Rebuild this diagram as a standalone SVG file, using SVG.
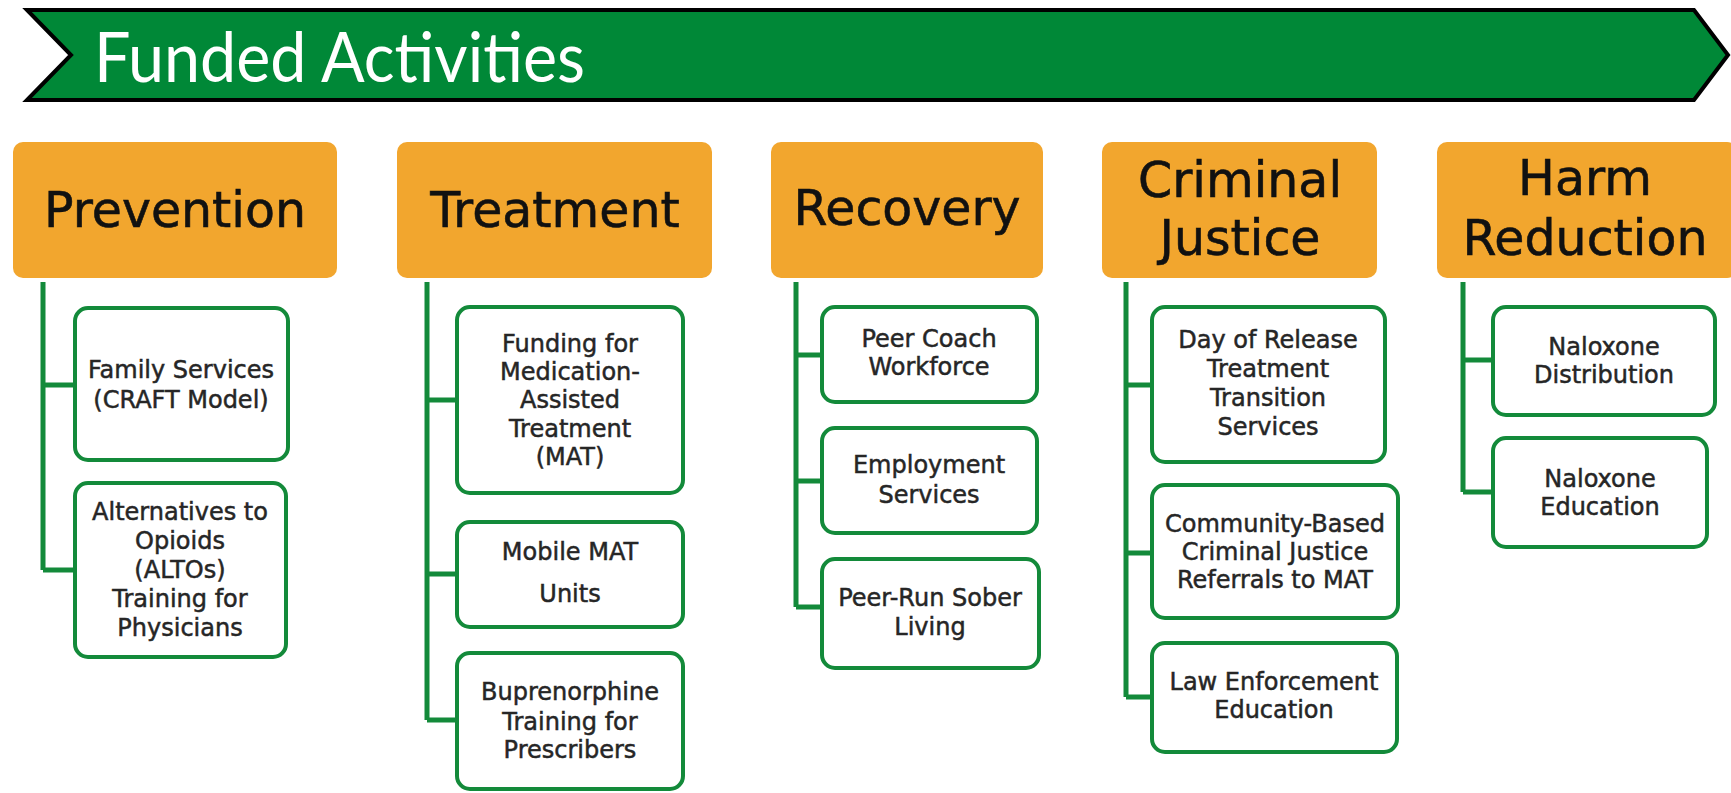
<svg xmlns="http://www.w3.org/2000/svg" width="1731" height="793" viewBox="0 0 1731 793">
<style>
.hdr{fill:#F2A62E}
.htx{font-family:"DejaVu Sans",sans-serif;font-size:49px;fill:#111;stroke:#111;stroke-width:0.6;text-anchor:middle}
.box{fill:#fff;stroke:#138A3A;stroke-width:4}
.btx{font-family:"DejaVu Sans",sans-serif;font-size:24px;fill:#262626;stroke:#262626;stroke-width:0.5;text-anchor:middle}
.con{fill:none;stroke:#138A3A;stroke-width:5}
</style>
<rect width="1731" height="793" fill="#fff"/>
<g id="banner">
<polygon points="27,10 1694,10 1728,55 1694,100 27,100 71,55" fill="#008837" stroke="#000" stroke-width="4" stroke-linejoin="miter"/>
<text x="94" y="82" font-family="Lato, 'Open Sans', sans-serif" font-size="70" fill="#fff" textLength="491" lengthAdjust="spacingAndGlyphs">Funded Activities</text>
</g>
<g id="connectors">
<path class="con" d="M43,282 V570 M43,385 H75 M43,570 H75"/>
<path class="con" d="M427,282 V720 M427,400 H457 M427,574 H457 M427,720 H457"/>
<path class="con" d="M796,282 V607 M796,355 H822 M796,481 H822 M796,607 H822"/>
<path class="con" d="M1126,282 V697 M1126,385 H1152 M1126,553 H1152 M1126,697 H1152"/>
<path class="con" d="M1463,282 V492 M1463,360 H1493 M1463,492 H1493"/>
</g>
<g id="prevention">
<rect class="hdr" x="13" y="142" width="324" height="136" rx="10"/>
<text class="htx" x="175" y="227">Prevention</text>
</g>
<g id="family-services">
<rect class="box" x="75" y="308" width="213" height="152" rx="13"/>
<text class="btx" x="181" y="378">Family Services</text>
<text class="btx" x="181" y="408">(CRAFT Model)</text>
</g>
<g id="altos">
<rect class="box" x="75" y="483" width="211" height="174" rx="13"/>
<text class="btx" x="180" y="520">Alternatives to</text>
<text class="btx" x="180" y="549">Opioids</text>
<text class="btx" x="180" y="578">(ALTOs)</text>
<text class="btx" x="180" y="607">Training for</text>
<text class="btx" x="180" y="636">Physicians</text>
</g>
<g id="treatment">
<rect class="hdr" x="397" y="142" width="315" height="136" rx="10"/>
<text class="htx" x="555" y="227">Treatment</text>
</g>
<g id="funding-mat">
<rect class="box" x="457" y="307" width="226" height="186" rx="13"/>
<text class="btx" x="570" y="352">Funding for</text>
<text class="btx" x="570" y="380">Medication-</text>
<text class="btx" x="570" y="408">Assisted</text>
<text class="btx" x="570" y="437">Treatment</text>
<text class="btx" x="570" y="465">(MAT)</text>
</g>
<g id="mobile-mat">
<rect class="box" x="457" y="522" width="226" height="105" rx="13"/>
<text class="btx" x="570" y="560">Mobile MAT</text>
<text class="btx" x="570" y="602">Units</text>
</g>
<g id="buprenorphine">
<rect class="box" x="457" y="653" width="226" height="136" rx="13"/>
<text class="btx" x="570" y="700">Buprenorphine</text>
<text class="btx" x="570" y="730">Training for</text>
<text class="btx" x="570" y="758">Prescribers</text>
</g>
<g id="recovery">
<rect class="hdr" x="771" y="142" width="272" height="136" rx="10"/>
<text class="htx" x="907" y="225">Recovery</text>
</g>
<g id="peer-coach">
<rect class="box" x="822" y="307" width="215" height="95" rx="13"/>
<text class="btx" x="929" y="347">Peer Coach</text>
<text class="btx" x="929" y="375">Workforce</text>
</g>
<g id="employment">
<rect class="box" x="822" y="428" width="215" height="105" rx="13"/>
<text class="btx" x="929" y="473">Employment</text>
<text class="btx" x="929" y="503">Services</text>
</g>
<g id="sober-living">
<rect class="box" x="822" y="559" width="217" height="109" rx="13"/>
<text class="btx" x="930" y="606">Peer-Run Sober</text>
<text class="btx" x="930" y="635">Living</text>
</g>
<g id="criminal-justice">
<rect class="hdr" x="1102" y="142" width="275" height="136" rx="10"/>
<text class="htx" x="1240" y="197">Criminal</text>
<text class="htx" x="1240" y="255">Justice</text>
</g>
<g id="day-of-release">
<rect class="box" x="1152" y="307" width="233" height="155" rx="13"/>
<text class="btx" x="1268" y="348">Day of Release</text>
<text class="btx" x="1268" y="377">Treatment</text>
<text class="btx" x="1268" y="406">Transition</text>
<text class="btx" x="1268" y="435">Services</text>
</g>
<g id="community-referrals">
<rect class="box" x="1152" y="485" width="246" height="133" rx="13"/>
<text class="btx" x="1275" y="532">Community-Based</text>
<text class="btx" x="1275" y="560">Criminal Justice</text>
<text class="btx" x="1275" y="588">Referrals to MAT</text>
</g>
<g id="law-enforcement">
<rect class="box" x="1152" y="643" width="245" height="109" rx="13"/>
<text class="btx" x="1274" y="690">Law Enforcement</text>
<text class="btx" x="1274" y="718">Education</text>
</g>
<g id="harm-reduction">
<rect class="hdr" x="1437" y="142" width="300" height="136" rx="10"/>
<text class="htx" x="1585" y="195">Harm</text>
<text class="htx" x="1585" y="255">Reduction</text>
</g>
<g id="naloxone-distribution">
<rect class="box" x="1493" y="307" width="222" height="108" rx="13"/>
<text class="btx" x="1604" y="355">Naloxone</text>
<text class="btx" x="1604" y="383">Distribution</text>
</g>
<g id="naloxone-education">
<rect class="box" x="1493" y="438" width="214" height="109" rx="13"/>
<text class="btx" x="1600" y="487">Naloxone</text>
<text class="btx" x="1600" y="515">Education</text>
</g>
</svg>
